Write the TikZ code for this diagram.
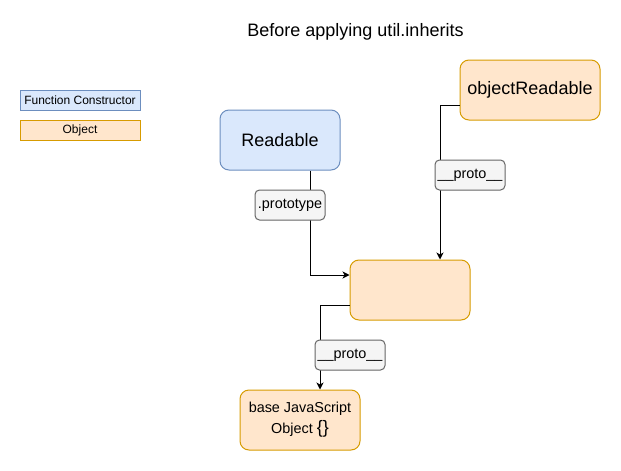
\documentclass[tikz,border=0pt]{standalone}
\usepackage{fontspec}
\setmainfont{Liberation Sans}
\usetikzlibrary{arrows.meta}
\definecolor{fcfill}{HTML}{DAE8FC}
\definecolor{fcline}{HTML}{6C8EBF}
\definecolor{objfill}{HTML}{FFE6CC}
\definecolor{objline}{HTML}{D79B00}
\definecolor{lblfill}{HTML}{F5F5F5}
\definecolor{lblline}{HTML}{666666}

\begin{document}
\begin{tikzpicture}[x=1pt,y=-1pt,line width=1pt,
  >={Stealth[length=7pt,width=7pt,inset=2pt]},
  fctor/.style={draw=fcline,fill=fcfill,rounded corners=9pt,minimum width=120pt,minimum height=60pt,font=\fontsize{18}{21}\selectfont},
  obj/.style={draw=objline,fill=objfill,rounded corners=9pt,minimum width=120pt,minimum height=60pt,font=\fontsize{18}{21}\selectfont},
  lbl/.style={draw=lblline,fill=lblfill,rounded corners=4.5pt,minimum width=70pt,minimum height=30pt,inner sep=1pt,font=\fontsize{14.4}{17}\selectfont},
  key/.style={minimum width=120pt,minimum height=20pt,inner sep=1pt,font=\fontsize{12}{14}\selectfont}]
  \useasboundingbox (0,0) rectangle (621,471);

  \node[anchor=base,font=\fontsize{18}{21}\selectfont] (title) at (355.5,36.5) {Before applying util.inherits};

  % legend
  \node[key,draw=fcline,fill=fcfill] (keyfc) at (80,100) {Function Constructor};
  \node[key,draw=objline,fill=objfill] (keyobj) at (80,130) {Object};

  \node[fctor] (readable) at (280,140) {Readable};
  \node[obj,minimum width=140pt,inner sep=1pt] (objreadable) at (530,90) {objectReadable};
  \node[obj] (protoobj) at (410,290) {};
  \node[obj,align=center,font=\fontsize{14.4}{21}\selectfont] (baseobj) at (300,420)
    {base JavaScript\\Object {\fontsize{18}{18}\selectfont\{\}}};

  \draw[->] ([xshift=30pt]readable.south) |- ([yshift=15pt]protoobj.west);
  \draw[->] ([yshift=-15pt]objreadable.west) -| ([xshift=30pt]protoobj.north);
  \draw[->] ([yshift=-15pt]protoobj.west) -| ([xshift=20pt]baseobj.north);

  \node[lbl] (prototype) at (290,205) {.prototype};
  \node[lbl] (protoup) at (470,175) {\_\_proto\_\_};
  \node[lbl] (protodown) at (350,355) {\_\_proto\_\_};
\end{tikzpicture}
\end{document}
